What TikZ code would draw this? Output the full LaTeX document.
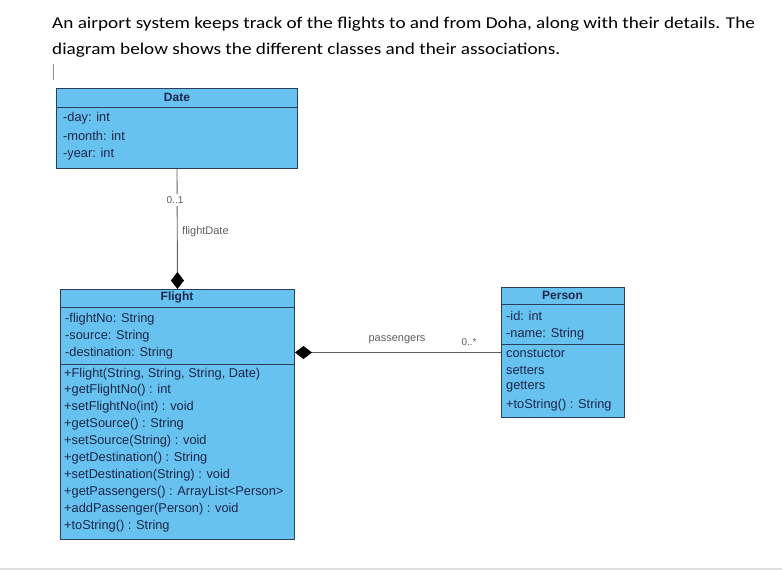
\documentclass[tikz,border=0pt]{standalone}
\usepackage{fontspec}
\setmainfont{Carlito}
\newfontfamily\umlfont{Liberation Sans}
\usepackage{xcolor}
\usetikzlibrary{arrows.meta, positioning}

\definecolor{klassblau}{RGB}{104,194,240}
\definecolor{klassrand}{RGB}{45,62,88}
\definecolor{umltext}{RGB}{28,38,72}
\definecolor{linkgrau}{RGB}{95,95,100}

\begin{document}
\begin{tikzpicture}[x=1pt, y=-1pt]
    \useasboundingbox (0,0) rectangle (782,570);

    % --- 1. Einleitungstext oben ---
    \tikzset{einleitung/.style={anchor=west, inner sep=0pt, font=\fontsize{16.5}{19}\selectfont}}
    \node[einleitung] (intro-a) at (52,24)
        {\scalebox{1.165}[1]{An airport system keeps track of the flights to and from Doha, along with their details. The}};
    \node[einleitung] (intro-b) at (52,50)
        {\scalebox{1.165}[1]{diagram below shows the different classes and their associations.}};
    \draw[gray!80, line width=0.8pt] (53.5,64) -- (53.5,80);

    % --- 2. Klassenkästen ---
    \tikzset{klasse/.style={draw=klassrand, fill=klassblau, line width=1pt, anchor=north west, inner sep=0pt}}
    \tikzset{trenner/.style={klassrand, line width=1pt}}
    \tikzset{kopf/.style={font=\umlfont\bfseries\fontsize{12}{14}\selectfont, text=umltext, inner sep=0pt}}
    \tikzset{eintrag/.style={anchor=west, font=\umlfont\fontsize{12.8}{15}\selectfont, text=umltext, inner sep=0pt}}

    % Date
    \node[klasse, minimum width=241pt, minimum height=80pt] (date) at (56,88) {};
    \draw[trenner] ([yshift=-19pt]date.north west) -- ([yshift=-19pt]date.north east);
    \node[kopf] (date-kopf) at (177,97) {Date};
    \node[eintrag] (date-day) at (63,118) {-day: int};
    \node[eintrag] (date-month) at (63,136) {-month: int};
    \node[eintrag] (date-year) at (63,154) {-year: int};

    % Flight
    \node[klasse, minimum width=234pt, minimum height=250pt] (flight) at (60,289) {};
    \draw[trenner] ([yshift=-18pt]flight.north west) -- ([yshift=-18pt]flight.north east);
    \draw[trenner] ([yshift=-75pt]flight.north west) -- ([yshift=-75pt]flight.north east);
    \node[kopf] (flight-kopf) at (177,297) {Flight};
    \node[eintrag] (flight-a1) at (65,319) {-flightNo: String};
    \node[eintrag] (flight-a2) at (65,336) {-source: String};
    \node[eintrag] (flight-a3) at (65,353) {-destination: String};
    \node[eintrag] (flight-m1) at (64,374) {+Flight(String, String, String, Date)};
    \node[eintrag] (flight-m2) at (64,390) {+getFlightNo() : int};
    \node[eintrag] (flight-m3) at (64,407) {+setFlightNo(int) : void};
    \node[eintrag] (flight-m4) at (64,424) {+getSource() : String};
    \node[eintrag] (flight-m5) at (64,441) {+setSource(String) : void};
    \node[eintrag] (flight-m6) at (64,458) {+getDestination() : String};
    \node[eintrag] (flight-m7) at (64,475) {+setDestination(String) : void};
    \node[eintrag] (flight-m8) at (64,492) {+getPassengers() : ArrayList<Person>};
    \node[eintrag] (flight-m9) at (64,509) {+addPassenger(Person) : void};
    \node[eintrag] (flight-m10) at (64,526) {+toString() : String};

    % Person
    \node[klasse, minimum width=123pt, minimum height=130pt] (person) at (501,287) {};
    \draw[trenner] ([yshift=-17pt]person.north west) -- ([yshift=-17pt]person.north east);
    \draw[trenner] ([yshift=-57pt]person.north west) -- ([yshift=-57pt]person.north east);
    \node[kopf] (person-kopf) at (562.5,295) {Person};
    \node[eintrag] (person-a1) at (506,316) {-id: int};
    \node[eintrag] (person-a2) at (506,334) {-name: String};
    \node[eintrag] (person-m1) at (506,353) {constuctor};
    \node[eintrag] (person-m2) at (506,370) {setters};
    \node[eintrag] (person-m3) at (506,387) {getters};
    \node[eintrag] (person-m4) at (506,405) {+toString() : String};

    % --- 3. Assoziationen (Komposition mit schwarzer Raute) ---
    \tikzset{komposition/.style={linkgrau, line width=0.9pt, {Diamond[length=17pt, width=13pt, black]}-}}
    \tikzset{rolle/.style={font=\umlfont\fontsize{11}{13}\selectfont, text=linkgrau, inner sep=0pt}}
    \draw[komposition] (flight.north) -- (date.south);
    \draw[komposition] (person.west -| flight.east) -- (person.west);

    \node[rolle, fill=white, inner sep=2pt, font=\umlfont\fontsize{10}{12}\selectfont] (mult-date) at (175,200) {0..1};
    \node[rolle, anchor=west] (rolle-date) at (182,232) {flightDate};
    \node[rolle] (rolle-person) at (397,340) {passengers};
    \node[rolle, font=\umlfont\fontsize{10}{12}\selectfont] (mult-person) at (469,342) {0..*};

    % --- 4. Fensterrand unten ---
    \draw[gray!25, line width=2pt] (0,568.5) -- (782,568.5);

\end{tikzpicture}
\end{document}
